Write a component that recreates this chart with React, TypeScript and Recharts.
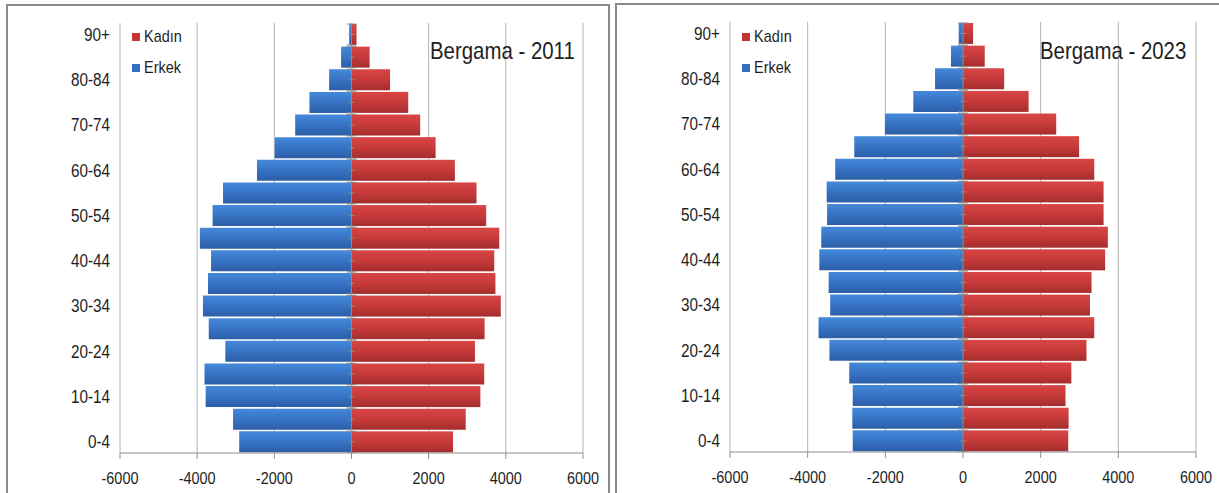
import React from "react";
import { BarChart, Bar, XAxis, YAxis, CartesianGrid, Legend } from "recharts";

const ageGroups = [
  "90+", "85-89", "80-84", "75-79", "70-74", "65-69", "60-64", "55-59", "50-54", "45-49",
  "40-44", "35-39", "30-34", "25-29", "20-24", "15-19", "10-14", "5-9", "0-4",
];

// Erkek değerleri sol tarafta (negatif), Kadın sağ tarafta
const erkek2011 = [-60, -270, -580, -1090, -1460, -1990, -2450, -3330, -3600, -3930, -3640, -3720, -3850, -3700, -3270, -3810, -3780, -3070, -2910];
const kadin2011 = [130, 470, 1000, 1470, 1780, 2180, 2680, 3240, 3490, 3830, 3700, 3730, 3870, 3450, 3200, 3440, 3340, 2960, 2630];
const erkek2023 = [-110, -310, -720, -1280, -2010, -2800, -3290, -3510, -3500, -3650, -3700, -3460, -3420, -3720, -3440, -2930, -2840, -2850, -2840];
const kadin2023 = [260, 560, 1060, 1690, 2400, 2990, 3380, 3620, 3620, 3730, 3660, 3310, 3270, 3380, 3180, 2790, 2640, 2720, 2710];

const xTicks = [-6000, -4000, -2000, 0, 2000, 4000, 6000];

const FONT = "'Liberation Sans', Arial, sans-serif";
const TEXT = "#1e1e1e";
const GRID = "#b4b4b4";
const AXIS = "#8c8c8c";
const SQUEEZE = 0.85; // dar yazı tipi görünümü için

const KadinShape = (props: any) => {
  const { x, y, width, height, fill } = props;
  return (
    <g>
      <rect x={x} y={y} width={width} height={height} fill={fill} />
      <line x1={x} x2={x} y1={y} y2={y + height} stroke={AXIS} strokeWidth={1} />
      <line x1={x - 5} x2={x + 5} y1={y} y2={y} stroke={AXIS} strokeWidth={1} />
      <line x1={x - 3} x2={x + 3} y1={y + height / 2} y2={y + height / 2} stroke={AXIS} strokeWidth={1} />
      <line x1={x - 5} x2={x + 5} y1={y + height} y2={y + height} stroke={AXIS} strokeWidth={1} />
    </g>
  );
};

const squeeze = (x: number, y: number) =>
  `translate(${x} ${y}) scale(${SQUEEZE} 1) translate(${-x} ${-y})`;

const YTick = (props: any) => {
  const { x, y, payload } = props;
  return (
    <text x={x} y={y} dy="0.36em" textAnchor="end" fontSize={18} fontFamily={FONT} fill={TEXT}
      transform={squeeze(x, y)}>
      {payload.value}
    </text>
  );
};

const XTick = (props: any) => {
  const { x, y, payload } = props;
  return (
    <text x={x} y={y} dy="0.71em" textAnchor="middle" fontSize={17} fontFamily={FONT} fill={TEXT}
      transform={squeeze(x, y)}>
      {payload.value}
    </text>
  );
};

const LegendBox = () => (
  <div style={{ fontFamily: FONT, fontSize: 17, color: TEXT, lineHeight: "31px" }}>
    {[
      { name: "Kadın", color: "#c33636" },
      { name: "Erkek", color: "#3470c0" },
    ].map((it) => (
      <div key={it.name} style={{ display: "flex", alignItems: "center" }}>
        <span style={{ width: 8, height: 8, background: it.color, display: "inline-block", marginRight: 4 }} />
        <span style={{ display: "inline-block", transform: `scaleX(${SQUEEZE})`, transformOrigin: "left center" }}>
          {it.name}
        </span>
      </div>
    ))}
  </div>
);

function Pyramid({
  id, title, erkek, kadin, width, margin,
}: {
  id: string; title: string; erkek: number[]; kadin: number[]; width: number;
  margin: { top: number; right: number; bottom: number; left: number };
}) {
  const data = ageGroups.map((age, i) => ({ age, erkek: erkek[i], kadin: kadin[i] }));
  return (
    <div style={{ position: "relative", width, height: 493 }}>
      <BarChart
        width={width}
        height={493}
        data={data}
        layout="vertical"
        stackOffset="sign"
        barCategoryGap={1}
        margin={margin}
      >
        <defs>
          <linearGradient id={`blue-${id}`} x1="0" y1="0" x2="0" y2="1">
            <stop offset="0%" stopColor="#4589da" />
            <stop offset="50%" stopColor="#3773c4" />
            <stop offset="100%" stopColor="#2c5ea7" />
          </linearGradient>
          <linearGradient id={`red-${id}`} x1="0" y1="0" x2="0" y2="1">
            <stop offset="0%" stopColor="#d94545" />
            <stop offset="50%" stopColor="#c63a3a" />
            <stop offset="100%" stopColor="#a52d2d" />
          </linearGradient>
        </defs>
        <CartesianGrid horizontal={false} stroke={GRID} />
        <XAxis
          type="number"
          domain={[-6000, 6000]}
          ticks={xTicks}
          height={30}
          stroke={AXIS}
          tickSize={6}
          tickMargin={13}
          tick={<XTick />}
        />
        <YAxis
          type="category"
          dataKey="age"
          width={120}
          interval={1}
          axisLine={false}
          tickLine={false}
          tickSize={0}
          tickMargin={10}
          tick={<YTick />}
        />
        <Legend
          layout="vertical"
          align="center"
          verticalAlign="middle"
          content={<LegendBox />}
          wrapperStyle={{ left: 132, top: 21, width: 80 }}
        />
        <Bar dataKey="erkek" name="Erkek" stackId="a" fill={`url(#blue-${id})`} isAnimationActive={false} />
        <Bar dataKey="kadin" name="Kadın" stackId="a" fill={`url(#red-${id})`} shape={KadinShape} isAnimationActive={false} />
      </BarChart>
      <div
        style={{
          position: "absolute",
          left: 430,
          top: 39,
          fontFamily: FONT,
          fontSize: 24,
          lineHeight: 1,
          color: TEXT,
          whiteSpace: "nowrap",
          transform: `scaleX(${SQUEEZE})`,
          transformOrigin: "left top",
        }}
      >
        {title}
      </div>
    </div>
  );
}

export default function App() {
  return (
    <div style={{ position: "fixed", left: 0, top: 0, width: 1219, height: 493, background: "#fff", overflow: "hidden" }}>
      <div style={{ position: "absolute", left: 6, top: 4, width: 600, height: 500, border: "2px solid #8a8a8a" }} />
      <div style={{ position: "absolute", left: 615, top: 3, width: 700, height: 500, border: "2px solid #8a8a8a" }} />
      <div style={{ position: "absolute", left: 0, top: 0 }}>
        <Pyramid id="2011" title="Bergama - 2011" erkek={erkek2011} kadin={kadin2011} width={610}
          margin={{ top: 23, right: 27, bottom: 10, left: 0 }} />
      </div>
      <div style={{ position: "absolute", left: 610, top: 0 }}>
        <Pyramid id="2023" title="Bergama - 2023" erkek={erkek2023} kadin={kadin2023} width={609}
          margin={{ top: 22, right: 23, bottom: 11, left: 0 }} />
      </div>
    </div>
  );
}
